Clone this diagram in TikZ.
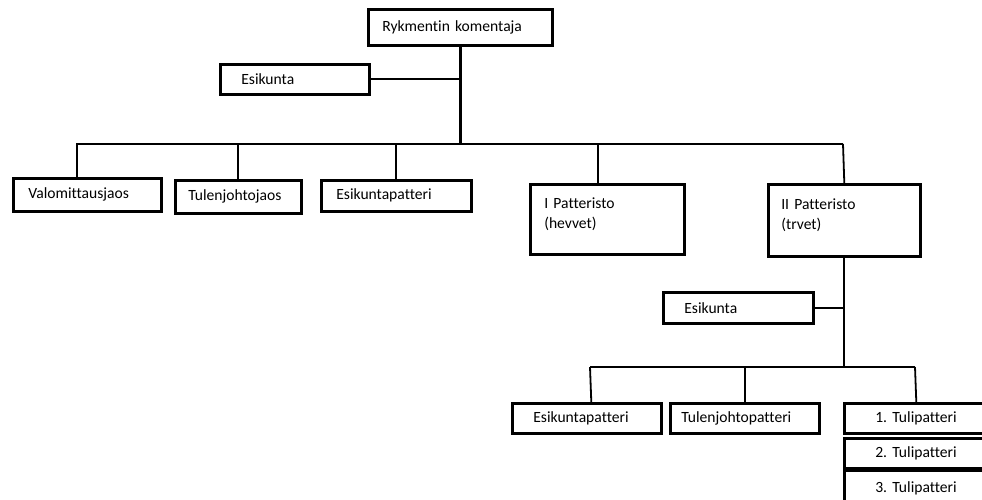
\documentclass[tikz,border=0pt]{standalone}
\usepackage{fontspec}
\setmainfont[Ligatures={NoCommon}]{Carlito}
\frenchspacing
\begin{document}
\begin{tikzpicture}[x=1pt,y=-1pt,font=\fontsize{15.6}{18.5}\selectfont]
    \tikzstyle{unit}=[draw=black,line width=2.6pt,anchor=north west,inner xsep=0pt,inner ysep=0pt,align=left]
    \tikzstyle{link}=[line width=1.8pt]
    \tikzstyle{trunk}=[line width=3pt]

    \useasboundingbox (0,0) rectangle (982,499);
    \clip (0,0) rectangle (982,499);

    \node[unit,text width=184pt,minimum height=36pt] at (367,8) (cmd) {\hspace*{14pt}Rykmentin komentaja};
    \node[unit,text width=149pt,minimum height=30pt] at (219,63) (esk) {\hspace*{21pt}Esikunta};

    \node[unit,text width=148pt,minimum height=33pt] at (12,177) (valo) {\hspace*{15pt}Valomittausjaos};
    \node[unit,text width=126pt,minimum height=33pt] at (174,179) (tjj) {\hspace*{13pt}Tulenjohtojaos};
    \node[unit,text width=150pt,minimum height=31pt] at (320,179) (ekp) {\hspace*{15pt}Esikuntapatteri};
    \node[unit,text width=154pt,minimum height=70pt] at (529,183) (ipt) {\hspace*{14pt}I Patteristo\\[1.5pt]\hspace*{14pt}(hevvet)\\[-6pt]\mbox{}};
    \node[unit,text width=152pt,minimum height=72pt] at (767,183) (iipt) {\hspace*{13pt}II Patteristo\\[1.5pt]\hspace*{13pt}(trvet)\\[-6pt]\mbox{}};

    \node[unit,text width=150pt,minimum height=31pt] at (662,291) (esk2) {\hspace*{21pt}Esikunta};
    \node[unit,text width=149pt,minimum height=30pt] at (511,402) (ekp2) {\hspace*{21pt}Esikuntapatteri};
    \node[unit,text width=149pt,minimum height=30pt] at (669,402) (tjp) {\hspace*{11pt}Tulenjohtopatteri};
    \node[unit,text width=144pt,minimum height=30pt] at (843,402) (tp1) {\hspace*{31pt}1. Tulipatteri};
    \node[unit,text width=144pt,minimum height=30pt] at (843,437) (tp2) {\hspace*{31pt}2. Tulipatteri};
    \node[unit,text width=144pt,minimum height=36pt] at (843,469) (tp3) {\hspace*{31pt}3. Tulipatteri};

    \coordinate (busL) at (76,144);
    \coordinate (busR) at (843,144);
    \coordinate (subL) at (590,367);
    \coordinate (subR) at (915,367);

    % regiment level
    \draw[trunk] (cmd.south) -- (cmd.south |- busL);
    \draw[link] (esk.east) -- (esk.east -| cmd.south);
    \draw[link] (busL) -- (busR);
    \draw[link] ([xshift=-10pt]valo.north) -- ([xshift=-10pt]valo.north |- busL);
    \draw[link] (tjj.north) -- (tjj.north |- busL);
    \draw[link] (ekp.north) -- (ekp.north |- busL);
    \draw[link] ([xshift=-9pt]ipt.north) -- ([xshift=-9pt]ipt.north |- busL);
    \draw[link] (iipt.north) -- (busR);

    % II Patteristo
    \draw[link] (iipt.south) -- (iipt.south |- subL);
    \draw[link] (esk2.east) -- (esk2.east -| iipt.south);
    \draw[link] (subL) -- (subR);
    \draw[link] ([xshift=4.5pt]ekp2.north) -- (subL);
    \draw[link] (tjp.north) -- (tjp.north |- subL);
    \draw[link] (tp1.north) -- (subR);
\end{tikzpicture}
\end{document}
